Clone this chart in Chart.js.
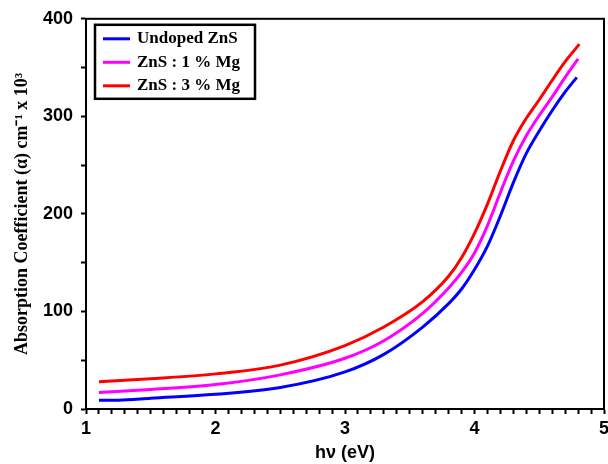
<!DOCTYPE html>
<html>
<head>
<meta charset="utf-8">
<script src="https://cdn.jsdelivr.net/npm/chart.js@4"></script>
<style>
  body { margin: 0; background: #fff; }
  canvas { display: block; }
</style>
</head>
<body>
<canvas id="chart" width="608" height="464"></canvas>
<script>
// photon energy (eV) and absorption coefficient (x10^3 cm^-1)
const undopedX = [1.1, 1.25, 1.5, 2.0, 2.5, 3.0, 3.3, 3.6, 3.8, 3.9, 4.0, 4.1, 4.2, 4.3, 4.4, 4.5, 4.6, 4.7, 4.79];
const undopedY = [9, 9, 11, 15, 22, 38, 56, 84, 108, 123, 143, 167, 198, 232, 262, 285, 306, 325, 340];

const mg1X = [1.1, 1.5, 2.0, 2.5, 3.0, 3.3, 3.6, 3.8, 3.9, 4.0, 4.1, 4.2, 4.3, 4.4, 4.5, 4.6, 4.7, 4.8];
const mg1Y = [17, 20, 25, 35, 52, 70, 98, 124, 140, 160, 188, 222, 254, 280, 301, 320, 340, 359];

const mg3X = [1.1, 1.5, 2.0, 2.5, 3.0, 3.3, 3.6, 3.8, 3.9, 4.0, 4.1, 4.2, 4.3, 4.4, 4.5, 4.6, 4.7, 4.81];
const mg3Y = [28, 31, 36, 45, 65, 84, 110, 136, 155, 180, 210, 244, 275, 298, 317, 337, 356, 374];

const seriesNames = ['Undoped ZnS', 'ZnS : 1 % Mg', 'ZnS : 3 % Mg'];
const seriesColors = ['#0000ff', '#ff00ff', '#ff0000'];

const toPoints = (xs, ys) => xs.map((x, i) => ({ x: x, y: ys[i] }));

const sets = [toPoints(undopedX, undopedY), toPoints(mg1X, mg1Y), toPoints(mg3X, mg3Y)];

// frame around the plot + boxed legend in the upper left
const framePlugin = {
  id: 'frame',
  afterDraw(chart) {
    const { ctx, chartArea: a } = chart;
    ctx.save();
    ctx.strokeStyle = '#000';
    ctx.lineWidth = 2;
    ctx.strokeRect(a.left, a.top, a.right - a.left, a.bottom - a.top);

    // legend
    const bx = a.left + 9, by = a.top + 6, bw = 160, bh = 74;
    ctx.lineWidth = 2.5;
    ctx.strokeRect(bx, by, bw, bh);
    ctx.font = 'bold 17px "Liberation Serif", "Times New Roman", serif';
    ctx.textBaseline = 'middle';
    chart.data.datasets.forEach((ds, i) => {
      const y = by + 14 + i * 23.5;
      ctx.strokeStyle = ds.borderColor;
      ctx.lineWidth = 3;
      ctx.beginPath();
      ctx.moveTo(bx + 8, y);
      ctx.lineTo(bx + 35, y);
      ctx.stroke();
      ctx.fillStyle = '#000';
      ctx.fillText(ds.label, bx + 42, y);
    });
    ctx.restore();
  }
};

const tickFont = { family: '"Liberation Sans", Arial, sans-serif', size: 18, weight: 'bold' };

new Chart(document.getElementById('chart'), {
  type: 'line',
  data: {
    datasets: sets.map((d, i) => ({
      label: seriesNames[i],
      data: d,
      borderColor: seriesColors[i],
      backgroundColor: seriesColors[i],
      borderWidth: 3,
      pointRadius: 0,
      cubicInterpolationMode: 'monotone',
      fill: false
    }))
  },
  options: {
    responsive: false,
    animation: false,
    layout: { padding: { top: 17, right: 4, left: 0, bottom: 0 } },
    plugins: {
      legend: { display: false },
      tooltip: { enabled: false }
    },
    scales: {
      x: {
        type: 'linear',
        min: 1,
        max: 5,
        afterFit(scale) {
          scale.height = 55;
          scale.paddingLeft = 0;
          scale.paddingRight = 0;
        },
        border: { display: true, color: '#000', width: 2 },
        grid: {
          drawOnChartArea: false,
          drawTicks: true,
          tickLength: 5,
          tickColor: '#000',
          tickWidth: 2
        },
        ticks: {
          stepSize: 0.1,
          autoSkip: false,
          maxRotation: 0,
          padding: 4,
          color: '#000',
          font: tickFont,
          callback: v => (Math.abs(v - Math.round(v)) < 1e-6 ? Math.round(v) : '')
        },
        title: {
          display: true,
          text: 'hν (eV)',
          color: '#000',
          font: { family: '"Liberation Sans", Arial, sans-serif', size: 18, weight: 'bold' },
          padding: { top: 2, bottom: 0 }
        }
      },
      y: {
        min: 0,
        max: 400,
        afterFit(scale) { scale.width = 86; },
        border: { display: true, color: '#000', width: 2 },
        grid: {
          drawOnChartArea: false,
          drawTicks: true,
          tickLength: 5,
          tickColor: '#000',
          tickWidth: 2
        },
        ticks: {
          stepSize: 50,
          autoSkip: false,
          padding: 8,
          color: '#000',
          font: tickFont,
          callback: v => (v % 100 === 0 ? v : '')
        },
        title: {
          display: true,
          text: 'Absorption Coefficient (α) cm⁻¹ x 10³',
          color: '#000',
          font: { family: '"Liberation Serif", "Times New Roman", serif', size: 18, weight: 'bold' },
          padding: { top: 12, bottom: 0 }
        }
      }
    }
  },
  plugins: [framePlugin]
});
</script>
</body>
</html>
